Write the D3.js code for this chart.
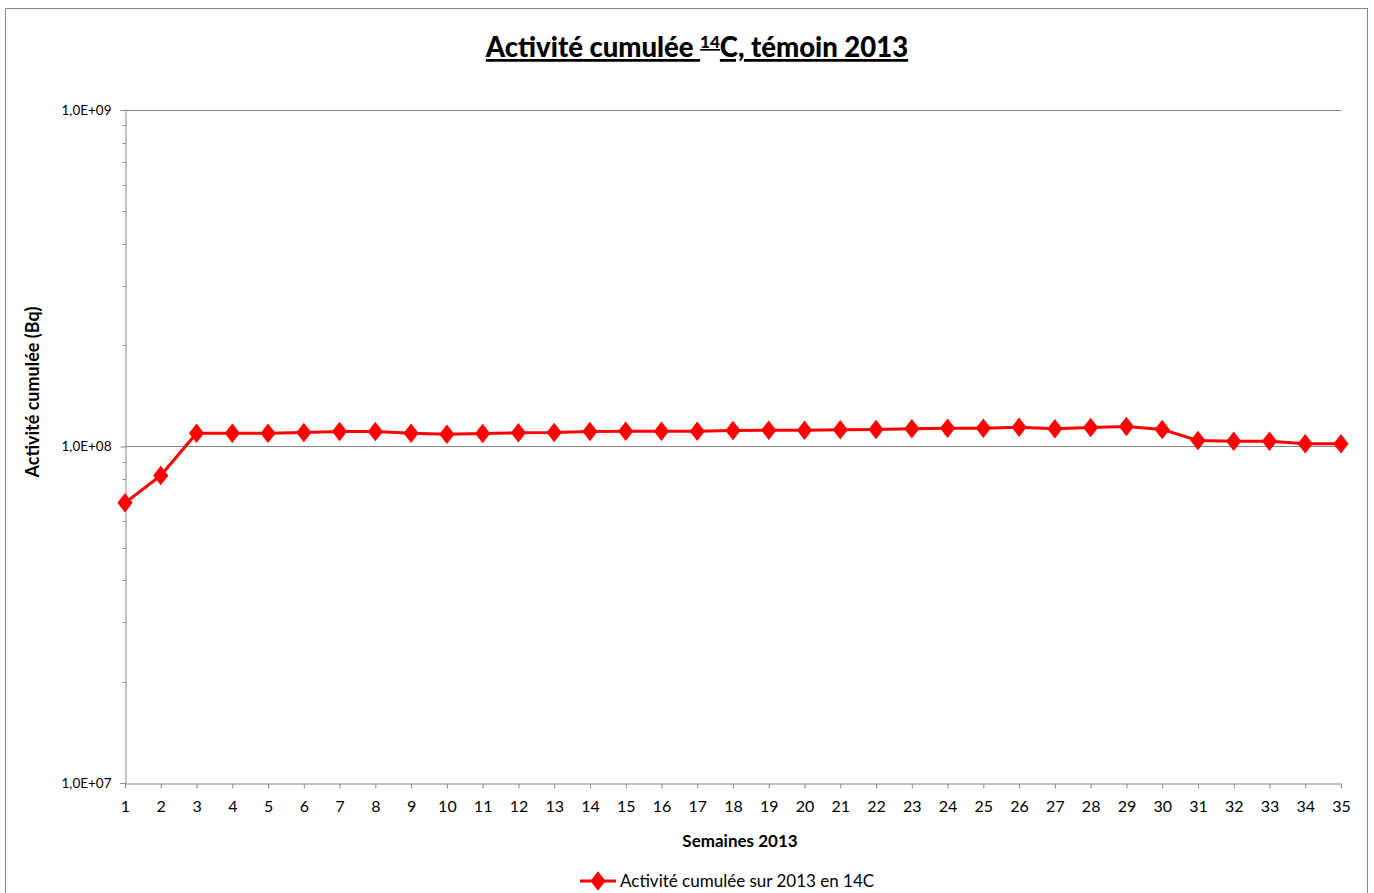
<!DOCTYPE html>
<html lang="fr">
<head>
<meta charset="UTF-8">
<title>Activité cumulée 14C, témoin 2013</title>
<script src="https://d3js.org/d3.v7.min.js"></script>
<style>
  body { margin: 0; background: #fff; }
  text { font-family: Lato, "Open Sans", sans-serif; fill: #000; }
  .axis path, .axis line { stroke: #868686; }
</style>
</head>
<body>
<div id="chart"></div>
<script>
// semaines 2013
var weeks = d3.range(1, 36);
// activité cumulée (Bq)
var activity = [
  6.8e7, 8.2e7, 1.095e8, 1.095e8, 1.095e8, 1.100e8, 1.108e8, 1.108e8, 1.095e8, 1.088e8,
  1.093e8, 1.098e8, 1.100e8, 1.108e8, 1.110e8, 1.110e8, 1.110e8, 1.116e8, 1.118e8, 1.118e8,
  1.121e8, 1.124e8, 1.129e8, 1.133e8, 1.133e8, 1.141e8, 1.129e8, 1.139e8, 1.147e8, 1.124e8,
  1.042e8, 1.037e8, 1.037e8, 1.019e8, 1.019e8
];
var yMajor = [1e7, 1e8, 1e9];
var seriesName = "Activité cumulée sur 2013 en 14C";

var width = 1374, height = 893;
var margin = {top: 110, right: 33, bottom: 110, left: 125};

var svg = d3.select("#chart").append("svg")
    .attr("width", width)
    .attr("height", height);

// cadre du graphique
svg.append("rect")
    .attr("x", 5.5).attr("y", 8.5)
    .attr("width", 1362).attr("height", 900)
    .attr("fill", "none")
    .attr("stroke", "#868686");

var x = d3.scaleLinear().domain([1, 35]).range([margin.left, width - margin.right]);
var y = d3.scaleLog().domain([1e7, 1e9]).range([height - margin.bottom, margin.top]);

// minor ticks
var minor = [];
[1e7, 1e8].forEach(function(d) { for (var k = 2; k <= 9; k++) minor.push(d * k); });

// grille
svg.append("g")
  .selectAll("line")
  .data(yMajor.slice(1))
  .enter().append("line")
    .attr("x1", x(1)).attr("x2", x(35))
    .attr("y1", function(d) { return Math.round(y(d)) + 0.5; })
    .attr("y2", function(d) { return Math.round(y(d)) + 0.5; })
    .attr("stroke", "#868686");

// axe y
var yAxis = svg.append("g")
    .attr("class", "axis")
    .attr("transform", "translate(" + (x(1) + 0.5) + ",0)")
    .call(d3.axisLeft(y).tickValues(yMajor).tickSize(5).tickPadding(9)
      .tickFormat(function(d) { return "1,0E+0" + Math.round(Math.log10(d)); }));
yAxis.selectAll("text").style("font-size", "13.5px");
yAxis.selectAll(".minor")
  .data(minor)
  .enter().append("line")
    .attr("class", "minor")
    .attr("x1", -3).attr("x2", 0)
    .attr("y1", function(d) { return Math.round(y(d)) + 0.5; })
    .attr("y2", function(d) { return Math.round(y(d)) + 0.5; })
    .attr("stroke", "#868686");

// axe x
var xAxis = svg.append("g")
    .attr("class", "axis")
    .attr("transform", "translate(0," + (Math.round(y(1e7)) + 0.5) + ")")
    .call(d3.axisBottom(x).tickValues(weeks).tickSize(5).tickPadding(12).tickSizeOuter(0)
      .tickFormat(d3.format("d")));
xAxis.selectAll("text").style("font-size", "16px");

// titres des axes
svg.append("text")
    .attr("x", 740).attr("y", 847)
    .attr("text-anchor", "middle")
    .style("font-size", "17px").style("font-weight", "bold")
    .text("Semaines 2013");

svg.append("text")
    .attr("transform", "translate(39,392) rotate(-90)")
    .attr("text-anchor", "middle")
    .style("font-size", "18px").style("font-weight", "bold")
    .text("Activité cumulée (Bq)");

// titre
var title = svg.append("text")
    .attr("x", 697).attr("y", 57)
    .attr("text-anchor", "middle")
    .style("font-size", "27.5px").style("font-weight", "900")
    .style("text-decoration", "underline");
title.append("tspan").text("Activité cumulée ");
title.append("tspan").attr("dy", -9).style("font-size", "17px").text("14");
title.append("tspan").attr("dy", 9).text("C, témoin 2013");

// série
var line = d3.line()
    .x(function(d, i) { return x(weeks[i]); })
    .y(function(d) { return y(d); });

svg.append("path")
    .datum(activity)
    .attr("fill", "none")
    .attr("stroke", "#ff0000")
    .attr("stroke-width", 3)
    .attr("stroke-linejoin", "round")
    .attr("d", line);

var diamond = d3.symbol().type(d3.symbolDiamond).size(110);

svg.append("g")
  .selectAll("path")
  .data(activity)
  .enter().append("path")
    .attr("transform", function(d, i) { return "translate(" + x(weeks[i]) + "," + y(d) + ") scale(1.35,1)"; })
    .attr("d", diamond)
    .attr("fill", "#ff0000");

// légende
var legend = svg.append("g").attr("transform", "translate(580,881)");
legend.append("line")
    .attr("x1", 0).attr("x2", 36)
    .attr("stroke", "#ff0000").attr("stroke-width", 3);
legend.append("path")
    .attr("transform", "translate(18,0) scale(1.35,1)")
    .attr("d", diamond)
    .attr("fill", "#ff0000");
legend.append("text")
    .attr("x", 40).attr("y", 6)
    .style("font-size", "17px")
    .text(seriesName);
</script>
</body>
</html>
